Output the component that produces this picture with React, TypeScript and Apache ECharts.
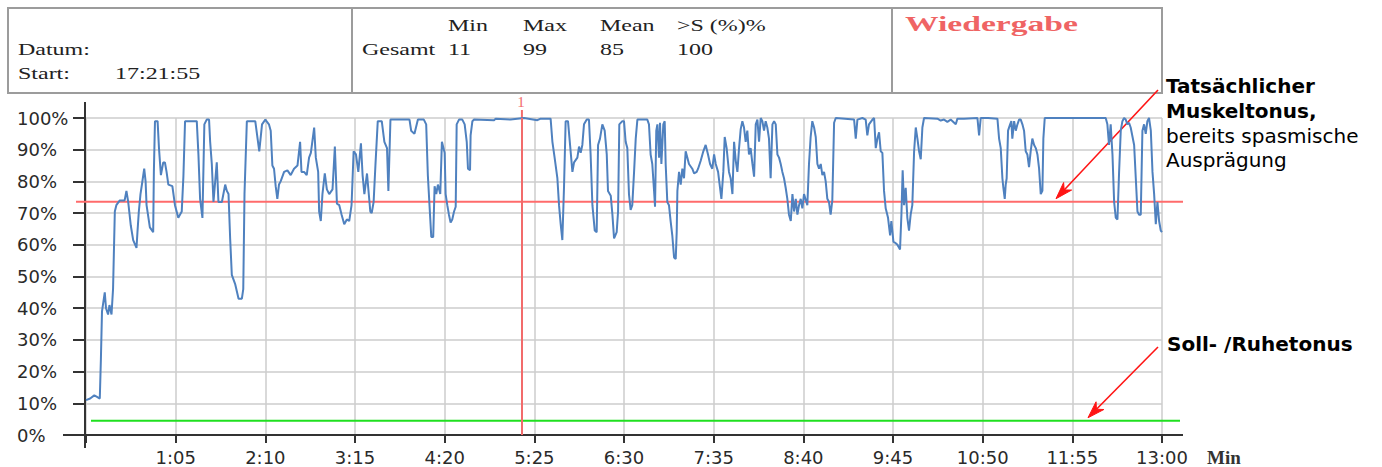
import React, { useEffect, useRef } from 'react';
import * as echarts from 'echarts';

// Muscle tone over time: [seconds, percent]
const tonus: [number, number][] = [
  [0, 11], [3, 11.5], [6, 12.5], [8, 12], [10, 11.5], [10.8, 24], [11.6, 39], [13.6, 45], [14.5, 40], [16, 38],
  [17, 41], [18.5, 38], [19.6, 46], [20.9, 70.5], [22, 72.5], [24.5, 74], [28, 74], [29.3, 77], [30.6, 73.5], [32.5, 66],
  [34.2, 61.5], [36.6, 59], [37.3, 64], [38.3, 70.5], [39.5, 76], [40.7, 79.5], [42.2, 84], [43.2, 80], [43.9, 72.5], [46.3, 65.5],
  [48.7, 64], [49.2, 83], [50, 99], [51.9, 99], [52.9, 90.5], [54.3, 82], [56, 86], [57.2, 86], [58.4, 83], [59.7, 79],
  [62.6, 78.5], [64.5, 72.5], [66.9, 68.5], [69.4, 70.5], [70.6, 81.5], [71.8, 99], [80.3, 99], [81.5, 88.5], [82.7, 74.5], [84.4, 68.5],
  [85.8, 98], [87.5, 99.5], [89.2, 99.5], [90, 92.5], [91.2, 85.5], [92.4, 73.5], [94.8, 86], [96, 73.5], [98.5, 73.5], [100.9, 79],
  [102.1, 77], [103.3, 76], [104.5, 62], [105.7, 50.5], [108.2, 47.5], [110.6, 43], [113, 43], [114, 46], [114.9, 76], [116.6, 99],
  [122.7, 99], [125.6, 89.5], [127.6, 98], [130, 99.5],
  [132.6, 98], [133.9, 96], [135.1, 85], [136.3, 84], [137.5, 78.5], [138.7, 74.5], [139.9, 79], [141.1, 80], [143.6, 83], [146, 83.5],
  [148.4, 82], [150.8, 84], [153.3, 85], [155.2, 92.5], [156.2, 83], [158.1, 83], [160, 82], [161.7, 87.5], [163, 89], [165.4, 97],
  [166.6, 87.5], [168.3, 83], [169, 70.5], [170.2, 67.5], [171.4, 76], [173.1, 82.5], [174.6, 77.5], [176.3, 76], [178.7, 77.5], [180.4, 91],
  [181.9, 73], [183.6, 72.5], [185.3, 69.5], [187.2, 66.5], [189.1, 68], [190.8, 67.5], [192.5, 72.5], [194, 89.5], [195.7, 88.5], [197.4, 83],
  [199.3, 92], [200.5, 82], [201.8, 76], [203.7, 82.5], [206.1, 70.5], [207.1, 70], [208.5, 73.5], [209.8, 85], [211.5, 99], [214.4, 99],
  [216.3, 92.5], [218.2, 90.5], [219.2, 77], [220.7, 99.5], [234.5, 99.5], [235.7, 96], [238.1, 95], [240.6, 99.5], [244.9, 99.5], [246.6, 98],
  [247.8, 82], [249, 72.5], [250.3, 62.5], [251.7, 62.5], [252.7, 78.5], [253.9, 76], [255.1, 79], [256.8, 76], [258, 92.5], [260, 89],
  [260.7, 76], [261.9, 72.5], [263.1, 69.5], [264.3, 67], [265.5, 68], [266.8, 70.5], [268, 72], [268.7, 98], [270.4, 99.5], [272.8, 99.5],
  [274.5, 98], [276, 92.5], [276.9, 84], [278.4, 83.5], [278.8, 94.5], [280.1, 99], [281.3, 99.5], [295.8, 99.3], [297, 99.8], [307.8, 99.5],
  [317.5, 100], [327.2, 99.3], [329.6, 99.8], [336.8, 99.8], [338.1, 92.5], [339.7, 87.5], [341.7, 81], [342.9, 72.5], [344.1, 66.5], [345.3, 61.5],
  [346.5, 78], [347.7, 99], [349.4, 99], [350.9, 91.5], [352.6, 83], [353.8, 86], [356.2, 87.5], [357.4, 91], [358.6, 89], [359.8, 91.5],
  [361, 98], [363, 99.5], [364.6, 99.5], [365.8, 88.5], [367.1, 72.5], [368.8, 64.5], [370.2, 64], [371.2, 91.5], [372.6, 93.5], [374.3, 98],
  [376, 96], [377.5, 88.5], [378.4, 77], [380.4, 75.5], [381.6, 69.5], [382.8, 62], [384.7, 64], [385.7, 70.5], [386.6, 98], [388.8, 99],
  [390, 99], [391.2, 92.5], [392.4, 90.5], [393.6, 76], [394.8, 71], [396, 72.5], [397.3, 83], [398.5, 93.5], [399.7, 99.5], [406.9, 99.5],
  [408.1, 98], [409.3, 88.5], [410.5, 85.5], [411.8, 77], [412.5, 72], [413.4, 96], [414.2, 98], [415.4, 87.5], [416.1, 98.5], [417.1, 85.5],
  [418.5, 98], [419.5, 99], [420.2, 85.5], [421.4, 73.5], [422.6, 72.5], [423.8, 67.5], [425, 63], [426.3, 56], [427.5, 55.5], [428.2, 64],
  [428.7, 77], [429.9, 83], [431.1, 79], [432.3, 84], [433.5, 81], [434.7, 89.5], [435.9, 87.5], [437.1, 85.5], [439.5, 84], [440.8, 82.5],
  [442.7, 83], [443.7, 84], [445.6, 86.5], [447.5, 89.5], [449.2, 91.5], [450.9, 88.5], [452.4, 85.5], [454, 84], [455.3, 88.5], [456.5, 85.5],
  [458.2, 83], [459.6, 78], [460.6, 74.5], [462, 83], [463, 94], [464.4, 90.5], [466.1, 83], [467.3, 81], [468.6, 76], [469.8, 92.5],
  [471, 86.5], [472.2, 83], [473.4, 90.5], [474.6, 96.5], [475.8, 99], [477, 97], [478.2, 92.5], [479.4, 96], [480.6, 88.5], [481.8, 90.5],
  [483.1, 85.5], [484.3, 81.5], [485.5, 98], [486.7, 99.5], [487.9, 92.5], [489.1, 100], [490.3, 99], [491.5, 96], [492.7, 99], [493.9, 97],
  [495.1, 93.5], [496.3, 81], [497.6, 98], [498.8, 99], [500, 98], [501.2, 88.5], [502.4, 87.5], [503.6, 85.5], [504.8, 83], [506, 81],
  [507.2, 78], [508.4, 74.5], [509.6, 69.5], [510.9, 67.5], [512.1, 76], [513.3, 70.5], [514.5, 74.5], [515.7, 69.5], [516.9, 72.5], [518.1, 74.5],
  [519.3, 71.5], [520.5, 76], [522.9, 72.5],
  [524.1, 85.5], [525.3, 94], [526.5, 99], [527.8, 97], [529, 94], [530.2, 85.5], [531.4, 84], [532.6, 85.5], [533.8, 82], [535, 83],
  [536.2, 80], [537.4, 74.5], [538.6, 73.5], [539.8, 69.5], [541, 74], [542.3, 98.5], [543.5, 100], [556.8, 99.5], [558, 93.5], [559.2, 99.5],
  [562.8, 100], [565.2, 99.5], [566.4, 94.5], [567.6, 98], [570.1, 99.5], [571.3, 100], [572.5, 90.5], [573.7, 93.5], [574.9, 95.5], [576.1, 89.5],
  [577.3, 89], [578.5, 77], [579.7, 71.5], [581.4, 68.5], [582.9, 63], [583.8, 67.5], [585.3, 61], [587, 60.5], [588.2, 60], [590.1, 58.5],
  [591.1, 69.5], [592, 83.5], [593, 72.5], [594.2, 78], [595.4, 68.5], [596.6, 64.5], [597.8, 69.5], [599, 72.5], [600.3, 89.5], [601.5, 97],
  [602.7, 93.5], [603.9, 89.5], [605.1, 87], [606.3, 97], [607.5, 100], [617.2, 99.8], [619.6, 99.2], [622, 99.5], [624.4, 98.8], [626.8, 99.5],
  [630.5, 98], [631.7, 99.8], [636.5, 99.8], [646.2, 100], [647.4, 94.5], [648.6, 100], [653.9, 100],
  [660.7, 99.8], [661.9, 93.5], [663.1, 90.5], [664.3, 81], [665, 78], [666, 74.5], [666.7, 79], [667.4, 81], [668.4, 96], [669.9, 98],
  [670.8, 99], [671.5, 93.5], [672.8, 99], [674, 96], [675.2, 98], [676.4, 99.5], [677.6, 99.5], [678.8, 98], [680, 96], [681.2, 89.5],
  [682.4, 88.5], [683.6, 84.5], [684.8, 89.5], [686, 93.5], [687.3, 91.5], [688.5, 90.5], [689.7, 88.5], [690.9, 84], [692.1, 76], [693.3, 77],
  [694, 93.5], [695, 100], [739.2, 100], [740.4, 98], [741.6, 91.5], [742.8, 98], [744.1, 88.5], [745.3, 73.5], [746.5, 68.5], [747.7, 68],
  [748.9, 83], [750.1, 96], [751.3, 99], [752.5, 100], [753.7, 99.5], [754.9, 98], [756.1, 98.5], [757.3, 97], [759.8, 91.5], [761, 81],
  [762.2, 70.5], [763.4, 69.5], [764.6, 69.5], [765.8, 96], [767, 98], [768.2, 95], [769.4, 99], [770.6, 100], [771.9, 96], [773.1, 83],
  [774.3, 76], [775.5, 66.5], [776.7, 73.5], [777.9, 67.5], [779.1, 64.5], [780, 64],
];

const xTickLabels = ['1:05', '2:10', '3:15', '4:20', '5:25', '6:30', '7:35', '8:40', '9:45', '10:50', '11:55', '13:00'];
const tickStepSeconds = 65;
const maxSeconds = 780;
const actualToneLevel = 73.6;
const restToneLevel = 4.5;
const markerSecond = 316;
const markerLabel = '1';

const statsColumns = ['Min', 'Max', 'Mean', '>S (%)%'];
const statsValues = ['11', '99', '85', '100'];
const statsRowLabel = 'Gesamt';
const dateLabel = 'Datum:';
const startLabel = 'Start:';
const startTime = '17:21:55';
const modeLabel = 'Wiedergabe';
const annotationActual = ['Tatsächlicher', 'Muskeltonus,', 'bereits spasmische', 'Ausprägung'];
const annotationRest = 'Soll- /Ruhetonus';

export default function App() {
  const ref = useRef<HTMLDivElement>(null);

  useEffect(() => {
    const chart = echarts.init(ref.current!, null, { renderer: 'svg' });
    const axisFont = { fontFamily: 'DejaVu Sans', fontSize: 18, color: '#2a2a2a' };

    chart.setOption({
      animation: false,
      grid: { left: 86, right: 220, top: 118, bottom: 32, containLabel: false },
      xAxis: {
        type: 'value',
        min: 0,
        max: maxSeconds,
        interval: tickStepSeconds,
        axisLine: { show: false },
        axisTick: { show: true, length: 8, lineStyle: { color: '#333', width: 2 } },
        axisLabel: {
          ...axisFont,
          margin: 13,
          showMaxLabel: true,
          formatter: (v: number) => (v === 0 ? '' : xTickLabels[Math.round(v / tickStepSeconds) - 1] ?? ''),
        },
        splitLine: { show: true, lineStyle: { color: '#cdcdcd', width: 1.5 } },
        name: 'Min',
        nameLocation: 'end',
        nameGap: 45,
        nameTextStyle: {
          fontFamily: 'Liberation Serif',
          fontWeight: 'bold',
          fontSize: 19,
          color: '#333',
          verticalAlign: 'top',
          padding: [13, 0, 0, 0],
        },
      },
      yAxis: {
        type: 'value',
        min: 0,
        max: 100,
        interval: 10,
        axisLine: { show: false },
        axisTick: { show: true, length: 13, lineStyle: { color: '#333', width: 2 } },
        axisLabel: { ...axisFont, align: 'left', margin: 69, formatter: '{value}%' },
        splitLine: { show: true, lineStyle: { color: '#cdcdcd', width: 1.5 } },
      },
      series: [
        {
          type: 'line',
          data: tonus,
          showSymbol: false,
          symbol: 'none',
          lineStyle: { color: '#4f81bf', width: 2 },
          markLine: {
            silent: true,
            symbol: ['none', 'none'],
            data: [{ xAxis: markerSecond }],
            lineStyle: { color: '#f26b6b', width: 2, type: 'solid' },
            label: { show: false },
          },
        },
      ],
    });

    const px = (x: number, y: number) => chart.convertToPixel({ gridIndex: 0 }, [x, y]) as number[];
    const [x0, y0] = px(0, 0);
    const [x1, yTop] = px(maxSeconds, 100);
    const yRed = px(0, actualToneLevel)[1];
    const yGreen = px(0, restToneLevel)[1];
    const xMarker = px(markerSecond, 100)[0];

    const line = (xa: number, ya: number, xb: number, yb: number, stroke: string, lineWidth: number) => ({
      type: 'line',
      silent: true,
      shape: { x1: xa, y1: ya, x2: xb, y2: yb },
      style: { stroke, lineWidth },
    });

    const headerText = (text: string, x: number, y: number, extra: any = {}) => ({
      type: 'text',
      x,
      y,
      scaleX: extra.scaleX ?? 1.5,
      silent: true,
      style: {
        text,
        fontFamily: 'Liberation Serif',
        fontSize: extra.fontSize ?? 16,
        fontWeight: extra.fontWeight ?? 'normal',
        fill: extra.fill ?? '#222',
        align: 'left',
        verticalAlign: 'middle',
      },
    });

    const noteText = (text: string, x: number, y: number, bold: boolean) => ({
      type: 'text',
      x,
      y,
      silent: true,
      style: {
        text,
        fontFamily: 'DejaVu Sans',
        fontSize: 20,
        fontWeight: bold ? 'bold' : 'normal',
        fill: '#000',
        align: 'left',
        verticalAlign: 'middle',
      },
    });

    const arrow = (xa: number, ya: number, xb: number, yb: number) => {
      const dx = xb - xa;
      const dy = yb - ya;
      const len = Math.hypot(dx, dy);
      const ux = dx / len;
      const uy = dy / len;
      const nx = -uy;
      const ny = ux;
      const headLen = 17;
      const headHalf = 5.5;
      const bx = xb - ux * headLen;
      const by = yb - uy * headLen;
      const notchX = xb - ux * 12;
      const notchY = yb - uy * 12;
      return [
        line(xa, ya, notchX, notchY, '#ff1414', 1.6),
        {
          type: 'polygon',
          silent: true,
          shape: {
            points: [
              [xb, yb],
              [bx + nx * headHalf, by + ny * headHalf],
              [notchX, notchY],
              [bx - nx * headHalf, by - ny * headHalf],
            ],
          },
          style: { fill: '#ff1414', stroke: '#ff1414', lineWidth: 1 },
        },
      ];
    };

    const boxStyle = { fill: 'none', stroke: '#9c9c9c', lineWidth: 2 };
    const colX = [448, 523, 600, 677];

    const elements: any[] = [
      // header boxes
      { type: 'rect', silent: true, shape: { x: 8, y: 8, width: 344, height: 85 }, style: boxStyle },
      { type: 'rect', silent: true, shape: { x: 352, y: 8, width: 540, height: 85 }, style: boxStyle },
      { type: 'rect', silent: true, shape: { x: 892, y: 8, width: 270, height: 85 }, style: boxStyle },
      headerText(dateLabel, 18, 50),
      headerText(startLabel, 18, 74),
      headerText(startTime, 115, 74),
      headerText(statsRowLabel, 362, 50),
      ...statsColumns.map((c, i) => headerText(c, colX[i], 26)),
      ...statsValues.map((v, i) => headerText(v, colX[i], 50)),
      headerText(modeLabel, 905, 24, { fontSize: 21, fontWeight: 'bold', fill: '#ef6464', scaleX: 1.6 }),
      // axes (extended beyond the plot as in the original)
      line(x0 - 23, y0, x1 + 21, y0, '#333', 2),
      line(x0 - 1, yTop - 16, x0 - 1, y0 + 13, '#333', 2),
      // reference lines
      line(x0 - 10, yRed, x1 + 21, yRed, '#ff6b6b', 2),
      line(x0 + 5, yGreen, x1 + 18, yGreen, '#1fe01f', 2),
      // marker extension and label
      line(xMarker, yTop - 8, xMarker, yTop, '#f26b6b', 2),
      {
        type: 'text',
        x: xMarker - 1,
        y: yTop - 9,
        silent: true,
        style: {
          text: markerLabel,
          fontFamily: 'Liberation Serif',
          fontSize: 15,
          fill: '#f26b6b',
          align: 'center',
          verticalAlign: 'bottom',
        },
      },
      // annotations
      noteText(annotationActual[0], 1166, 86, true),
      noteText(annotationActual[1], 1166, 111, true),
      noteText(annotationActual[2], 1166, 136, false),
      noteText(annotationActual[3], 1166, 160, false),
      noteText(annotationRest, 1167, 344, true),
      ...arrow(1158, 90, 1056, yRed - 3),
      ...arrow(1158, 347, 1088, yGreen - 3),
    ];

    chart.setOption({ graphic: { elements } });

    return () => chart.dispose();
  }, []);

  return <div ref={ref} style={{ position: 'absolute', left: 0, top: 0, width: 1382, height: 467 }} />;
}
